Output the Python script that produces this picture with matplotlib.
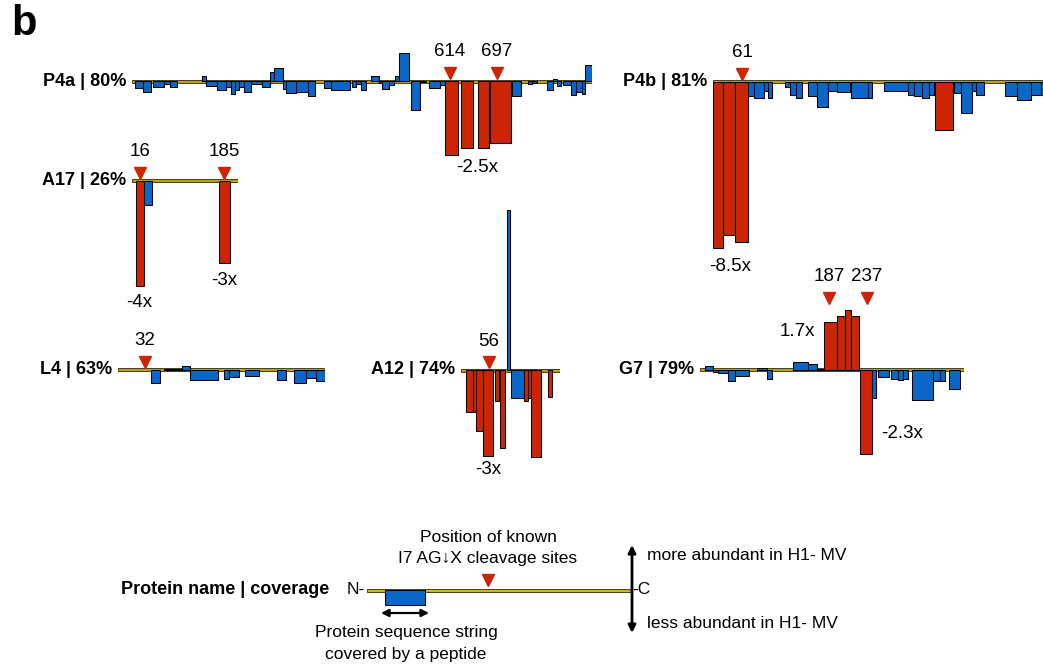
import matplotlib.pyplot as plt
from matplotlib.patches import Rectangle

plt.rcParams['font.family'] = ['Liberation Sans', 'DejaVu Sans']

W, H = 1043, 666
BLUE = '#0a66c8'
RED = '#cc2405'
TRACK = '#bf9f12'

# peptide segments along each protein: (start, end, change, significant)
p4a_segments = [
    (3, 11, -7, 0), (11, 19, -11, 0), (21, 32, -6, 0), (32, 38, -3, 0), (38, 45, -6, 0),
    (70, 74, 5, 0), (74, 85, -5, 0), (85, 94, -9, 0), (94, 99, -6, 0), (99, 103, -13, 0),
    (103, 107, -9, 0), (107, 112, -6, 0), (112, 119, -11, 0), (119, 130, -3, 0),
    (130, 138, -6, 0), (138, 142, 9, 0), (142, 151, 13, 0), (151, 154, -8, 0),
    (154, 164, -12, 0), (164, 176, -11, 0), (176, 183, -15, 0), (192, 199, -7, 0),
    (199, 218, -9, 0), (220, 224, -6, 0), (224, 229, -3, 0), (229, 234, -9, 0),
    (239, 247, 5, 0), (247, 250, -2, 0), (250, 257, -8, 0), (257, 262, -4, 0),
    (263, 267, 5, 0), (267, 277, 28, 0), (279, 288, -29, 0), (289, 294, -1, 0),
    (297, 308, -7, 0), (308, 313, -4, 0),
    (313, 326, -74, 1), (329, 341, -67, 1), (346, 357, -67, 1), (358, 379, -62, 1),
    (380, 389, -15, 0), (396, 400, -3, 0), (400, 405, -2, 0), (415, 421, -9, 0),
    (421, 425, 2, 0), (425, 429, -5, 0), (431, 439, -4, 0), (439, 444, -14, 0),
    (444, 450, -11, 0), (450, 453, -13, 0), (453, 460, 16, 0),
]
p4b_segments = [
    (0, 10, -166, 1), (10, 22, -153, 1), (22, 35, -160, 1),
    (35, 41, -14, 0), (41, 51, -16, 0), (51, 55, -9, 0), (55, 59, -16, 0),
    (72, 77, -5, 0), (77, 83, -13, 0), (83, 89, -16, 0),
    (95, 104, -14, 0), (104, 115, -25, 0), (115, 124, -9, 0), (124, 137, -10, 0),
    (138, 155, -16, 0), (155, 159, -16, 0),
    (171, 195, -9, 0), (195, 201, -13, 0), (201, 209, -14, 0), (209, 216, -16, 0),
    (216, 221, -13, 0), (222, 240, -48, 1),
    (241, 248, -11, 0), (248, 259, -31, 0), (259, 263, -9, 0), (263, 271, -13, 0),
    (292, 304, -14, 0), (304, 318, -18, 0), (318, 328, -13, 0), (328, 337, -13, 0),
]
a17_segments = [(4, 12, -105, 1), (12, 20, -24, 0), (87, 98, -82, 1)]
l4_segments = [
    (33, 42, -13, 0), (46, 64, 1, 0), (64, 72, 4, 0), (72, 100, -10, 0),
    (106, 111, -9, 0), (111, 121, -7, 0), (127, 141, -6, 0), (159, 168, -10, 0),
    (176, 188, -13, 0), (188, 198, -8, 0), (198, 207, -11, 0),
]
a12_segments = [
    (5, 12, -42, 1), (12, 15, -42, 1), (15, 22, -61, 1), (22, 32, -86, 1),
    (34, 38, -31, 1), (39, 44, -78, 1), (46, 49, 160, 0), (50, 63, -28, 0),
    (63, 67, -31, 1), (67, 70, -28, 1), (70, 80, -87, 1), (87, 91, -27, 1),
]
g7_segments = [
    (5, 13, 4, 0), (13, 18, -2, 0), (18, 28, -3, 0), (28, 35, -11, 0), (35, 49, -6, 0),
    (57, 67, 2, 0), (67, 72, -9, 0), (93, 108, 8, 0), (108, 117, 6, 0), (117, 124, 1, 0),
    (124, 137, 48, 1), (137, 145, 54, 1), (145, 151, 60, 1), (151, 159, 54, 1),
    (160, 172, -84, 1), (172, 176, -28, 0), (178, 189, -7, 0), (191, 198, -9, 0),
    (198, 203, -10, 0), (203, 208, -9, 0), (212, 233, -30, 0), (233, 240, -11, 0),
    (240, 245, -11, 0), (249, 260, -19, 0),
]
legend_segments = [(18, 58, -15, 0)]

# cleavage sites: (position on track, residue label)
p4a_sites = [(318, '614'), (365, '697')]
p4b_sites = [(29, '61')]
a17_sites = [(8, '16'), (92, '185')]
l4_sites = [(27, '32')]
a12_sites = [(28, '56')]
g7_sites = [(129, '187'), (167, '237')]
legend_sites = [(121, '')]

# fold change labels: (x, y, text)
p4a_folds = [(345, -86, '-2.5x')]
p4b_folds = [(17, -185, '-8.5x')]
a17_folds = [(7, -122, '-4x'), (92, -100, '-3x')]
a12_folds = [(27, -100, '-3x')]
g7_folds = [(97, 38, '1.7x'), (202, -64, '-2.3x')]

fig = plt.figure(figsize=(W / 100, H / 100), dpi=100)


def panel(x0, yb, length, name, segments, sites, folds, lift=8):
    ax = fig.add_axes([x0 / W, (H - yb - 200) / H, length / W, 400 / H])
    ax.set_xlim(0, length)
    ax.set_ylim(-200, 200)
    ax.axis('off')
    ax.add_patch(Rectangle((0, -1.5), length, 3, fc=TRACK, ec='#2e2a10', lw=0.6, zorder=1))
    for s, e, v, sig in segments:
        ax.bar(s, v, e - s, align='edge', color=RED if sig else BLUE,
               edgecolor='black', linewidth=0.75, zorder=2)
    for pos, lab in sites:
        ax.plot(pos, lift, marker='v', color=RED, markersize=8, zorder=3)
        ax.text(pos, lift + 21, lab, ha='center', va='center', fontsize=13.5)
    for fx, fy, ft in folds:
        ax.text(fx, fy, ft, ha='center', va='center', fontsize=13.5)
    ax.text(-6, 0, name, ha='right', va='center', fontsize=13, weight='bold')
    return ax


panel(132, 81, 460, 'P4a | 80%', p4a_segments, p4a_sites, p4a_folds)
panel(713, 81.5, 350, 'P4b | 81%', p4b_segments, p4b_sites, p4b_folds)
panel(132, 180.5, 106, 'A17 | 26%', a17_segments, a17_sites, a17_folds)
panel(118, 369.5, 207, 'L4 | 63%', l4_segments, l4_sites, [])
panel(461, 370, 99, 'A12 | 74%', a12_segments, a12_sites, a12_folds)
panel(700, 369.5, 264, 'G7 | 79%', g7_segments, g7_sites, g7_folds, lift=72)

# legend / key
lg = panel(367, 590, 265, '', legend_segments, legend_sites, [], lift=10)
lg.patches[0].set_facecolor('#e0b000')
lg.text(-38, 0, 'Protein name | coverage', ha='right', va='center', fontsize=13, weight='bold')
lg.text(-2, 0, 'N-', ha='right', va='center', fontsize=12.5)
lg.text(265, 0, '-C', ha='left', va='center', fontsize=12.5)
lg.text(121, 53, 'Position of known', ha='center', va='center', fontsize=12.5)
lg.text(121, 31, 'I7 AG\u2193X cleavage sites', ha='center', va='center', fontsize=12.5)
lg.text(39, -43, 'Protein sequence string', ha='center', va='center', fontsize=12.5)
lg.text(39, -64, 'covered by a peptide', ha='center', va='center', fontsize=12.5)
lg.text(280, 35, 'more abundant in H1- MV', ha='left', va='center', fontsize=12.5)
lg.text(280, -33, 'less abundant in H1- MV', ha='left', va='center', fontsize=12.5)
lg.annotate('', xy=(14, -23), xytext=(62, -23),
            arrowprops=dict(arrowstyle='<|-|>', color='black', lw=1.6,
                            mutation_scale=11, shrinkA=0, shrinkB=0))
lg.annotate('', xy=(265, 45), xytext=(265, -43),
            arrowprops=dict(arrowstyle='<|-|>', color='black', lw=2,
                            mutation_scale=11, shrinkA=0, shrinkB=0))

fig.text(11 / W, 1 - 24 / H, 'b', ha='left', va='center', fontsize=30, weight='bold')

fig.savefig('out.png', dpi=100)
